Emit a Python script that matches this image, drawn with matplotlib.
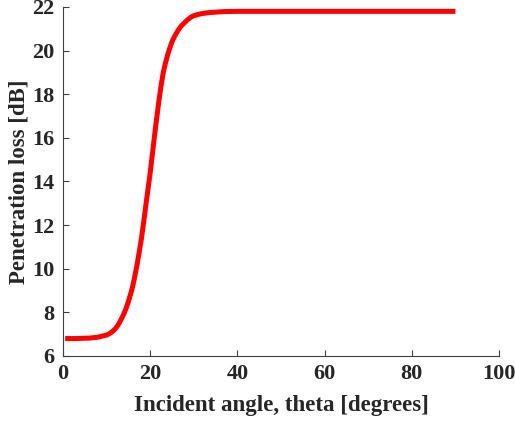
import matplotlib
matplotlib.use('Agg')
import matplotlib.pyplot as plt

# incident angle (deg) and penetration loss (dB)
theta = [0.5, 3, 6, 8, 10, 10.5, 11, 11.5, 12, 12.5, 13, 13.5, 14, 14.5, 15,
         15.5, 16, 16.5, 17, 17.5, 18, 18.5, 19, 19.5, 20, 20.5, 21, 21.5, 22,
         22.5, 23, 23.5, 24, 24.5, 25, 25.5, 26, 26.5, 27, 27.5, 28, 28.5, 29,
         29.5, 30, 31, 32, 33, 34, 35.5, 37, 40, 50, 60, 70, 80, 90]
loss = [6.80, 6.80, 6.82, 6.86, 6.96, 7.01, 7.07, 7.15, 7.25, 7.38, 7.55, 7.74,
        7.95, 8.20, 8.50, 8.83, 9.20, 9.68, 10.2, 10.78, 11.4, 12.13, 12.9,
        13.65, 14.4, 15.25, 16.1, 16.92, 17.7, 18.4, 19.0, 19.43, 19.8, 20.12,
        20.4, 20.62, 20.8, 20.96, 21.1, 21.21, 21.3, 21.4, 21.48, 21.55, 21.6,
        21.66, 21.7, 21.73, 21.75, 21.77, 21.79, 21.8, 21.8, 21.8, 21.8, 21.8, 21.8]

xticks = [0, 20, 40, 60, 80, 100]
yticks = [6, 8, 10, 12, 14, 16, 18, 20, 22]

plt.rcParams['font.family'] = ['Liberation Serif', 'DejaVu Serif']
plt.rcParams['font.weight'] = 'bold'

fig = plt.figure(figsize=(5.15, 4.23), dpi=100)
ax = fig.add_axes([0.1223, 0.1584, 0.8467, 0.8251])

ax.plot(theta, loss, color='red', linewidth=3.6, solid_capstyle='butt',
        solid_joinstyle='round')

ax.set_xlim(0, 100)
ax.set_ylim(6, 22)
ax.set_xticks(xticks)
ax.set_yticks(yticks)
ax.spines['top'].set_visible(False)
ax.spines['right'].set_visible(False)
for s in ['left', 'bottom']:
    ax.spines[s].set_color('#404040')
    ax.spines[s].set_linewidth(0.8)
ax.tick_params(direction='in', length=4, width=0.8, color='#404040',
               labelsize=16, labelcolor='#262626', pad=6)
for lbl in ax.get_xticklabels() + ax.get_yticklabels():
    lbl.set_fontweight('bold')

ax.set_xlabel('Incident angle, theta [degrees]', fontsize=16.5, fontweight='bold',
              color='#262626', labelpad=8)
ax.set_ylabel('Penetration loss [dB]', fontsize=16.5, fontweight='bold',
              color='#262626', labelpad=2)

fig.savefig('out.png', dpi=100)
